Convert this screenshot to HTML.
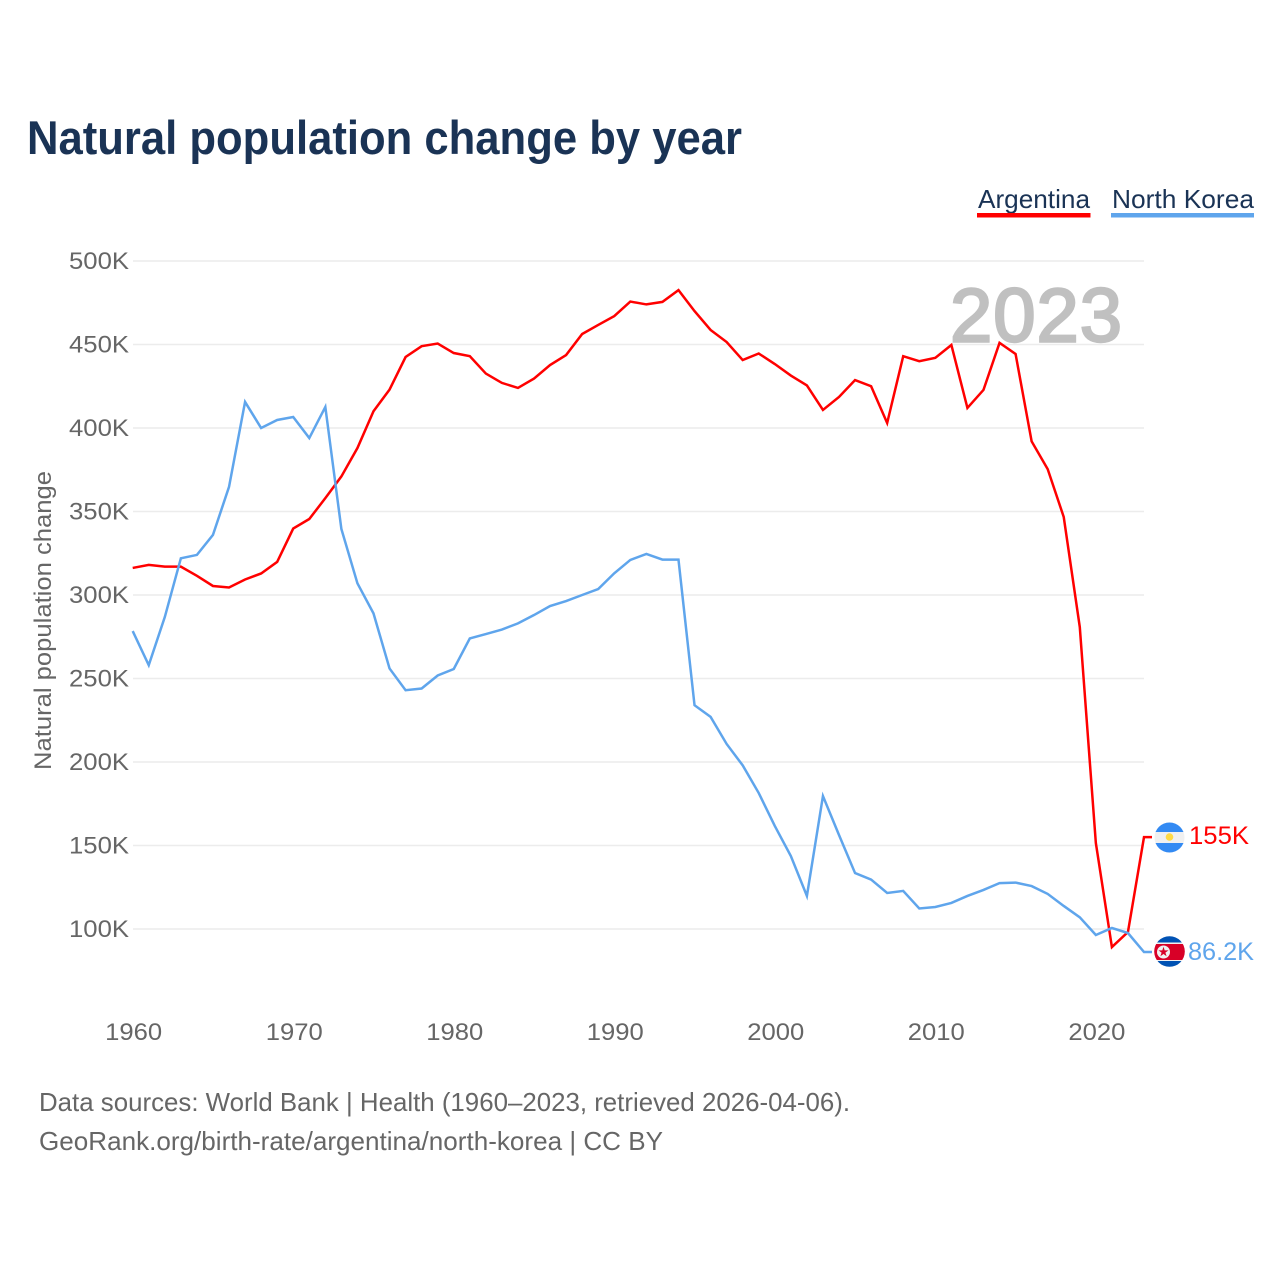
<!DOCTYPE html>
<html lang="en">
<head>
<meta charset="utf-8">
<title>Natural population change by year</title>
<style>
  html, body { margin: 0; padding: 0; background: #fff; }
  svg { display: block; font-family: "Liberation Sans", sans-serif; }
</style>
</head>
<body>
<svg id="chart" xmlns="http://www.w3.org/2000/svg" width="1280" height="1280" viewBox="0 0 1280 1280">
  <rect width="1280" height="1280" fill="#fff"/>
  <text x="27" y="154" font-size="47" font-weight="700" fill="#1a3355" textLength="715" lengthAdjust="spacingAndGlyphs">Natural population change by year</text>

  <g>
    <g>
      <text x="978" y="208" font-size="26" fill="#1a3355" textLength="112" lengthAdjust="spacingAndGlyphs">Argentina</text>
      <rect x="977" y="213" width="113.500" height="4.500" fill="#ff0000"/>
    </g>
    <g>
      <text x="1112" y="208" font-size="26" fill="#1a3355" textLength="142" lengthAdjust="spacingAndGlyphs">North Korea</text>
      <rect x="1111" y="213" width="143" height="4.500" fill="#5fa5ec"/>
    </g>
  </g>

  <g id="grid"></g>
  <g id="y-axis"></g>
  <g id="x-axis"></g>

  <text transform="translate(51 620.500) rotate(-90)" text-anchor="middle" font-size="24" fill="#666" textLength="299" lengthAdjust="spacingAndGlyphs">Natural population change</text>

  <text x="950" y="341.500" font-size="76" font-weight="400" fill="#c0c0c0" stroke="#c0c0c0" stroke-width="2.400" letter-spacing="1">2023</text>

  <g id="series"></g>

  <defs>
    <clipPath id="clip-ar"><circle cx="1169.500" cy="837.500" r="15"/></clipPath>
    <clipPath id="clip-kp"><circle cx="1169.500" cy="951.500" r="15.300"/></clipPath>
  </defs>

  <g clip-path="url(#clip-ar)">
    <rect x="1154" y="822" width="31" height="31" fill="#f0f0f0"/>
    <rect x="1154" y="822" width="31" height="10" fill="#338af3"/>
    <rect x="1154" y="843" width="31" height="10" fill="#338af3"/>
    <circle cx="1169.500" cy="837" r="3.800" fill="#ffda44"/>
  </g>
  <g clip-path="url(#clip-kp)">
    <rect x="1154" y="936" width="31" height="31" fill="#f0f0f0"/>
    <rect x="1154" y="936" width="31" height="6.500" fill="#0052b4"/>
    <rect x="1154" y="961" width="31" height="6.500" fill="#0052b4"/>
    <rect x="1154" y="944" width="31" height="16" fill="#d80027"/>
    <circle cx="1163.500" cy="952" r="6.500" fill="#f0f0f0"/>
    <polygon points="1163.500,946.800 1164.700,950.400 1168.500,950.400 1165.400,952.600 1166.600,956.200 1163.500,954 1160.400,956.200 1161.600,952.600 1158.500,950.400 1162.300,950.400" fill="#d80027"/>
  </g>

  <g id="end-labels"></g>

  <g font-size="26" fill="#666">
    <text x="39" y="1111" textLength="811" lengthAdjust="spacingAndGlyphs">Data sources: World Bank | Health (1960–2023, retrieved 2026-04-06).</text>
    <text x="39" y="1150" textLength="624" lengthAdjust="spacingAndGlyphs">GeoRank.org/birth-rate/argentina/north-korea | CC BY</text>
  </g>
</svg>

<script>
var years = [1960,1961,1962,1963,1964,1965,1966,1967,1968,1969,1970,1971,1972,1973,1974,1975,1976,1977,1978,1979,1980,1981,1982,1983,1984,1985,1986,1987,1988,1989,1990,1991,1992,1993,1994,1995,1996,1997,1998,1999,2000,2001,2002,2003,2004,2005,2006,2007,2008,2009,2010,2011,2012,2013,2014,2015,2016,2017,2018,2019,2020,2021,2022,2023];
var argentinaValues = [316.2,318,317,317,311.5,305.4,304.5,309.3,312.9,319.8,339.8,345.5,358,371,388,410,423,442.5,449,450.6,444.9,443,432.6,427,424,429.6,437.7,443.7,456.3,461.7,467,475.7,474,475.5,482.6,470,458.7,451.5,440.7,444.6,438.3,431.4,425.5,410.8,418.6,428.7,425,403,443,440,442,449.7,412,422.8,451,444.3,392,375.4,346.7,280.8,151.5,89.2,98.2,155];
var northKoreaValues = [278.4,258,286.8,322,324,336,364.7,415.6,400,404.8,406.6,394,412.6,339.5,307,289,256,243,244,251.8,255.7,274,276.6,279.3,283,288,293.4,296.4,300,303.6,313,321,324.6,321.2,321.2,234,227,210.8,198,181.4,161.7,143.7,119.8,179.6,156.3,133.5,129.6,121.6,122.8,112.3,113.2,115.6,119.8,123.4,127.5,127.8,125.7,121,113.8,107,96.4,100.6,97.6,86.2];
var yTickValues = [100,150,200,250,300,350,400,450,500];
var yTickLabels = ["100K","150K","200K","250K","300K","350K","400K","450K","500K"];
var xTickValues = [1960,1970,1980,1990,2000,2010,2020];
var xTickLabels = ["1960","1970","1980","1990","2000","2010","2020"];
var argentinaEndLabel = "155K";
var northKoreaEndLabel = "86.2K";

var SVG_NS = "http://www.w3.org/2000/svg";
function xScale(year) { return 132.7 + (year - 1960) * (1144 - 132.7) / 63; }
function yScale(value) { return 929 - (value - 100) * (929 - 261) / 400; }
function make(tag, parentId) {
  var node = document.createElementNS(SVG_NS, tag);
  document.getElementById(parentId).appendChild(node);
  return node;
}

yTickValues.forEach(function (value, i) {
  var line = make("line", "grid");
  
  
  line.setAttribute("x1", 133);
  line.setAttribute("x2", 1144);
  line.setAttribute("y1", yScale(value));
  line.setAttribute("y2", yScale(value));
  line.setAttribute("stroke", "#ececec");
  line.setAttribute("stroke-width", 1.5);

  var label = make("text", "y-axis");
  
  
  label.setAttribute("x", 129);
  label.setAttribute("y", yScale(value) + 8);
  label.setAttribute("text-anchor", "end");
  label.setAttribute("font-size", 24.5);
  label.setAttribute("fill", "#666");
  label.setAttribute("textLength", 60);
  label.setAttribute("lengthAdjust", "spacingAndGlyphs");
  label.textContent = yTickLabels[i];
});

xTickValues.forEach(function (value, i) {
  var label = make("text", "x-axis");
  
  
  label.setAttribute("x", xScale(value) + 1);
  label.setAttribute("y", 1040);
  label.setAttribute("text-anchor", "middle");
  label.setAttribute("font-size", 24.5);
  label.setAttribute("fill", "#666");
  label.setAttribute("textLength", 57);
  label.setAttribute("lengthAdjust", "spacingAndGlyphs");
  label.textContent = xTickLabels[i];
});

function linePoints(values) {
  var pts = values.map(function (value, i) {
    return xScale(years[i]).toFixed(2) + "," + yScale(value).toFixed(2);
  });
  var last = values[values.length - 1];
  pts.push((xScale(years[years.length - 1]) + 8).toFixed(2) + "," + yScale(last).toFixed(2));
  return pts.join(" ");
}

var argentinaLine = make("polyline", "series");


argentinaLine.setAttribute("points", linePoints(argentinaValues));
argentinaLine.setAttribute("fill", "none");
argentinaLine.setAttribute("stroke", "#ff0000");
argentinaLine.setAttribute("stroke-width", 2.5);

var northKoreaLine = make("polyline", "series");


northKoreaLine.setAttribute("points", linePoints(northKoreaValues));
northKoreaLine.setAttribute("fill", "none");
northKoreaLine.setAttribute("stroke", "#5fa5ec");
northKoreaLine.setAttribute("stroke-width", 2.5);

var argentinaLabel = make("text", "end-labels");


argentinaLabel.setAttribute("x", 1189);
argentinaLabel.setAttribute("y", yScale(argentinaValues[argentinaValues.length - 1]) + 7);
argentinaLabel.setAttribute("font-size", 25);
argentinaLabel.setAttribute("fill", "#ff0000");
argentinaLabel.setAttribute("textLength", 60);
argentinaLabel.setAttribute("lengthAdjust", "spacingAndGlyphs");
argentinaLabel.textContent = argentinaEndLabel;

var northKoreaLabel = make("text", "end-labels");


northKoreaLabel.setAttribute("x", 1188);
northKoreaLabel.setAttribute("y", yScale(northKoreaValues[northKoreaValues.length - 1]) + 8);
northKoreaLabel.setAttribute("font-size", 25);
northKoreaLabel.setAttribute("fill", "#5fa5ec");
northKoreaLabel.setAttribute("textLength", 66);
northKoreaLabel.setAttribute("lengthAdjust", "spacingAndGlyphs");
northKoreaLabel.textContent = northKoreaEndLabel;
</script>
</body>
</html>
